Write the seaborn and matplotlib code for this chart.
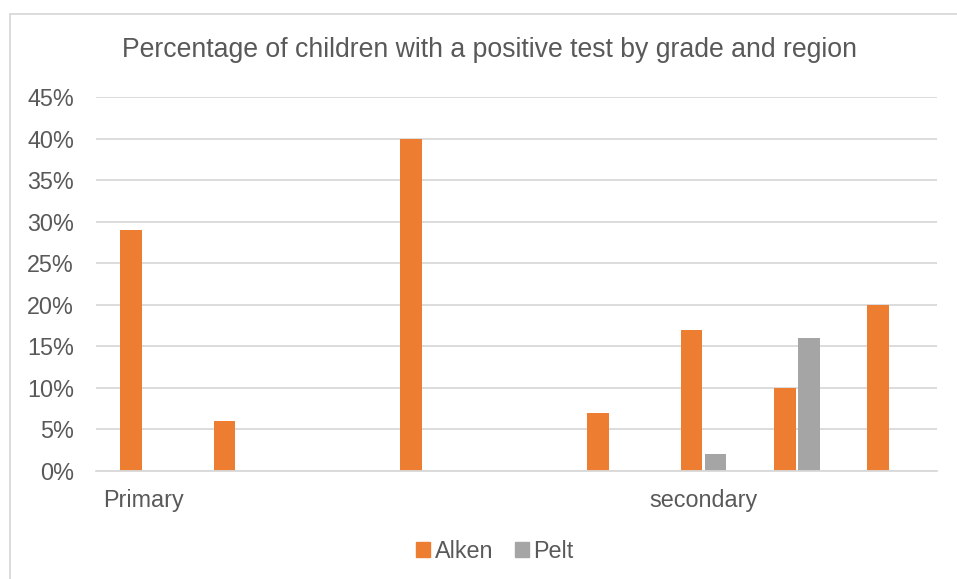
import matplotlib
matplotlib.use("Agg")
import matplotlib.pyplot as plt
from matplotlib.patches import Rectangle
from matplotlib.ticker import FuncFormatter, MultipleLocator
import seaborn as sns
import pandas as pd

# Category slots along the x axis and their tick labels
slots = ["c1", "c2", "c3", "c4", "c5", "c6", "c7", "c8", "c9"]
slot_labels = ["Primary", "", "", "", "", "", "secondary", "", ""]

# Positive-test percentages per region (only slots that have a value)
alken_slots = ["c1", "c2", "c4", "c6", "c7", "c8", "c9"]
alken_values = [0.29, 0.06, 0.40, 0.07, 0.17, 0.10, 0.20]
pelt_slots = ["c7", "c8"]
pelt_values = [0.02, 0.16]

regions = ["Alken", "Pelt"]
colors = ["#ED7D31", "#A5A5A5"]

df = pd.concat([
    pd.DataFrame({"slot": alken_slots, "value": alken_values, "region": "Alken"}),
    pd.DataFrame({"slot": pelt_slots, "value": pelt_values, "region": "Pelt"}),
])

sns.set_theme(style="white")
plt.rcParams["font.family"] = ["Liberation Sans", "DejaVu Sans"]
text_color = "#595959"

fig = plt.figure(figsize=(9.57, 5.79), dpi=100)
ax = fig.add_axes([96.3 / 957, 1 - 471 / 579, (937 - 96.3) / 957, (471 - 97.3) / 579])

sns.barplot(data=df, x="slot", y="value", hue="region", order=slots,
            hue_order=regions, palette=colors, width=0.514, gap=0.1,
            saturation=1, linewidth=0, ax=ax, legend=False)

ax.set_ylim(0, 0.45)
ax.set_xlim(-0.5, len(slots) - 0.5)
ax.yaxis.set_major_locator(MultipleLocator(0.05))
ax.yaxis.set_major_formatter(FuncFormatter(lambda v, _: f"{round(v * 100)}%"))
ax.grid(axis="y", color="#D9D9D9", linewidth=1.3)
ax.set_axisbelow(True)
for side in ["top", "right", "left"]:
    ax.spines[side].set_visible(False)
ax.spines["bottom"].set_color("#D9D9D9")
ax.spines["bottom"].set_linewidth(1.3)

ax.set_xticks(range(len(slots)))
ax.set_xticklabels(slot_labels, fontsize=16.8, color=text_color)
ax.tick_params(axis="x", length=0, pad=13)
ax.tick_params(axis="y", length=0, pad=16, labelsize=16.8, labelcolor=text_color)
ax.set_xlabel("")
ax.set_ylabel("")

fig.text(490 / 957, 1 - 50 / 579, "Percentage of children with a positive test by grade and region",
         ha="center", va="center", fontsize=19.2, color=text_color)

# Legend
handles = [Rectangle((0, 0), 1, 1, color=c) for c in colors]
fig.legend(handles, regions, loc="center", bbox_to_anchor=(495 / 957, 1 - 551 / 579),
           ncol=2, frameon=False, fontsize=16.8, labelcolor=text_color,
           handlelength=0.6, handleheight=0.6, handletextpad=0.2, columnspacing=0.9)

# Chart frame
fig.patches.append(Rectangle((10 / 957, -0.05), 1.2, 1 - 14 / 579 + 0.05,
                             transform=fig.transFigure, fill=False,
                             edgecolor="#D9D9D9", linewidth=1.3))

fig.savefig("out.png", dpi=100, facecolor="white")
